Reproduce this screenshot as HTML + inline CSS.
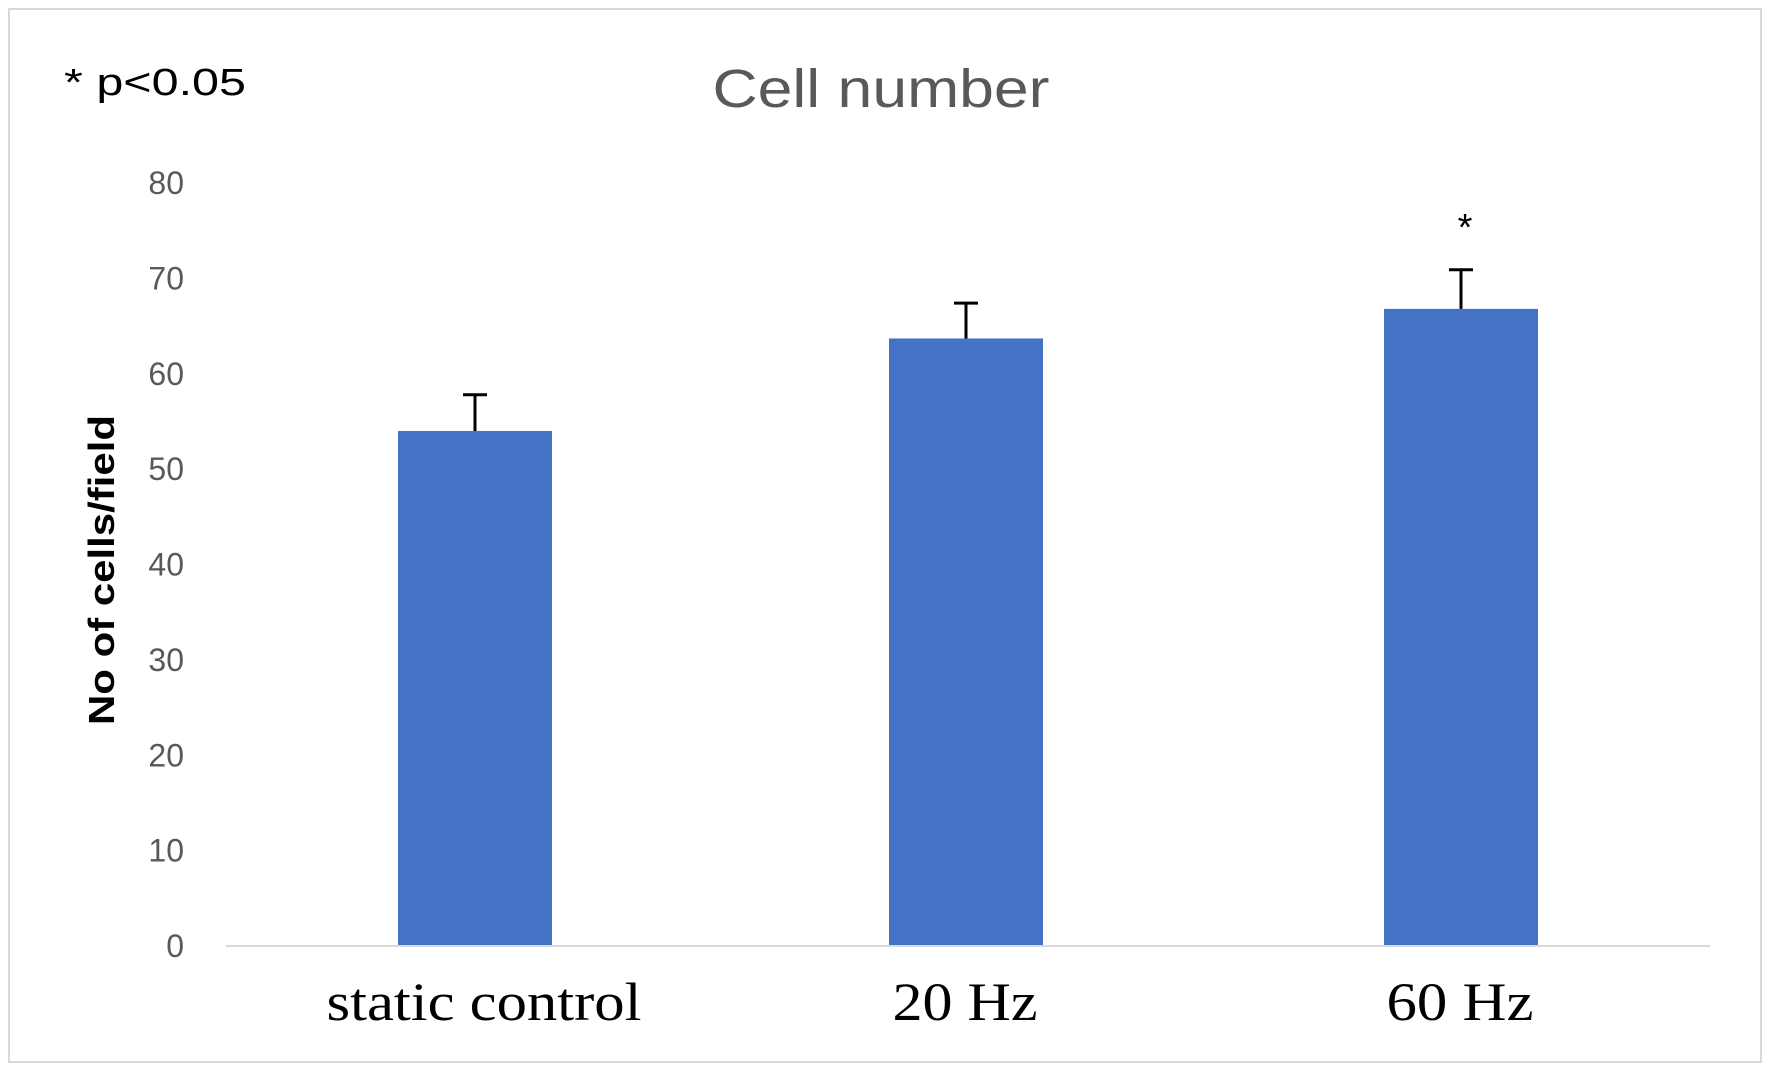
<!DOCTYPE html>
<html><head><meta charset="utf-8"><style>
html,body{margin:0;padding:0;background:#fff;}
svg{display:block;}
</style></head><body>
<svg id="chart" width="1772" height="1069" xmlns="http://www.w3.org/2000/svg">
<rect x="9" y="9" width="1752" height="1053" fill="#fff" stroke="#d9d9d9" stroke-width="2"/>
<text x="64" y="95" textLength="182" lengthAdjust="spacingAndGlyphs" font-family="Liberation Sans, sans-serif" font-size="38" fill="#000">* p&lt;0.05</text>
<text x="881" y="107" text-anchor="middle" textLength="337" lengthAdjust="spacingAndGlyphs" font-family="Liberation Sans, sans-serif" font-size="54" fill="#595959">Cell number</text>
<text transform="translate(114,570) rotate(-90)" text-anchor="middle" textLength="310" lengthAdjust="spacingAndGlyphs" font-family="Liberation Sans, sans-serif" font-weight="bold" font-size="36" fill="#000">No of cells/field</text>
<g id="plot"></g>
</svg>
<script>
const categories = ["static control", "20 Hz", "60 Hz"];
const values = [54.0, 63.7, 66.8];
const errors = [3.8, 3.7, 4.1];
const yTicks = [0, 10, 20, 30, 40, 50, 60, 70, 80];
const significant = [false, false, true];
const labelWidths = [315, 145, 147];

const NS = "http://www.w3.org/2000/svg";
const plot = document.getElementById("plot");
const y0 = 946, yTop = 183, yMax = 80;
const xLeft = 226, xRight = 1710;
const centers = [475, 966, 1461];
const labelCenters = [484, 965, 1460];
function yScale(v){ return y0 - (v / yMax) * (y0 - yTop); }
function xScale(i){ return centers[i]; }
function mk(tag, attrs){ const e = document.createElementNS(NS, tag); for (const k in attrs) e.setAttribute(k, attrs[k]); plot.appendChild(e); return e; }

yTicks.forEach(t => {
  const e = mk("text", {x: 184, y: yScale(t) + 11, "text-anchor": "end", "font-family": "Liberation Sans, sans-serif", "font-size": 32, fill: "#595959"});
  e.textContent = t;
  
  
});

const bw = 154;
values.forEach((v, i) => {
  const cx = xScale(i);
  const r = mk("rect", {x: cx - bw/2, y: yScale(v), width: bw, height: y0 - yScale(v), fill: "#4472c4"});
  
  
  const ey = yScale(v + errors[i]);
  const l = mk("path", {d: `M${cx} ${yScale(v)} V${ey} M${cx-12} ${ey} H${cx+12}`, stroke: "#000", "stroke-width": 3, fill: "none"});
  
  
  const lab = mk("text", {x: labelCenters[i], y: 1020, "text-anchor": "middle", textLength: labelWidths[i], lengthAdjust: "spacingAndGlyphs", "font-family": "Liberation Serif, serif", "font-size": 54, fill: "#000"});
  lab.textContent = categories[i];
  
  
  if (significant[i]) {
    const s = mk("text", {x: cx + 4, y: ey - 30, "text-anchor": "middle", "font-family": "Liberation Sans, sans-serif", "font-size": 38, fill: "#000"});
    s.textContent = "*";
    
    
  }
});

const ax = mk("line", {x1: xLeft, x2: xRight, y1: y0, y2: y0, stroke: "#d9d9d9", "stroke-width": 2});


</script>
</body></html>
